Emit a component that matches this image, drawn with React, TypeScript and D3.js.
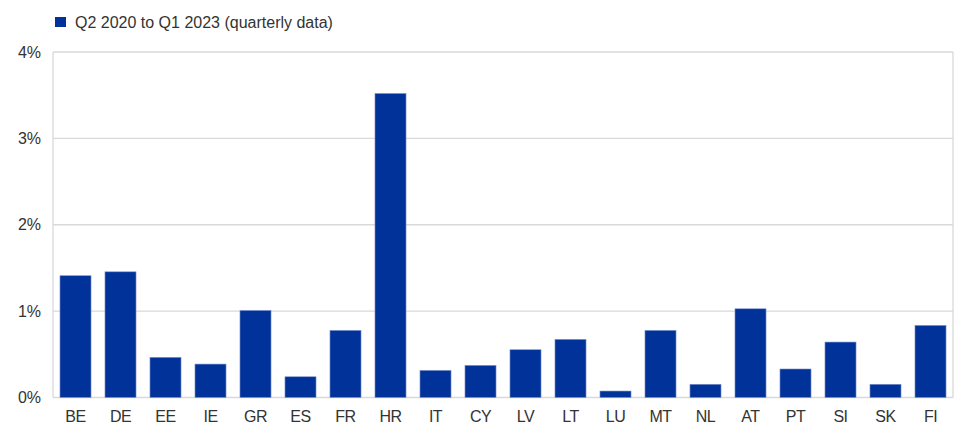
import React, { useRef, useEffect } from "react";
import * as d3 from "d3";

const countries = ["BE", "DE", "EE", "IE", "GR", "ES", "FR", "HR", "IT", "CY", "LV", "LT", "LU", "MT", "NL", "AT", "PT", "SI", "SK", "FI"];
const values = [1.41, 1.455, 0.465, 0.387, 1.008, 0.24, 0.777, 3.52, 0.314, 0.372, 0.553, 0.673, 0.075, 0.777, 0.153, 1.027, 0.33, 0.642, 0.153, 0.835];
const yTicks = [0, 1, 2, 3, 4];
const legendLabel = "Q2 2020 to Q1 2023 (quarterly data)";

const width = 968;
const height = 443;
const margin = { top: 52, right: 15, bottom: 45.5, left: 53 };
const barColor = "#003299";
const textColor = "#333333";
const gridColor = "#d9d9d9";

const App = () => {
  const svgRef = useRef<SVGSVGElement>(null);

  useEffect(() => {
    const svg = d3.select(svgRef.current);
    svg.selectAll("*").remove();

    const x = d3
      .scaleBand()
      .domain(countries)
      .range([margin.left, width - margin.right])
      .paddingInner(0.31)
      .paddingOuter(0.155);

    const y = d3
      .scaleLinear()
      .domain([0, 4])
      .range([height - margin.bottom, margin.top]);

    // gridlines
    svg
      .append("g")
      .selectAll("line")
      .data(yTicks)
      .enter()
      .append("line")
      .attr("x1", margin.left)
      .attr("x2", width - margin.right)
      .attr("y1", (d) => y(d))
      .attr("y2", (d) => y(d))
      .attr("stroke", gridColor)
      .attr("stroke-width", 1.3);

    // left + right frame lines
    [margin.left, width - margin.right].forEach((xx) => {
      svg
        .append("line")
        .attr("x1", xx)
        .attr("x2", xx)
        .attr("y1", y(4))
        .attr("y2", y(0))
        .attr("stroke", gridColor)
        .attr("stroke-width", 1.3);
    });

    // y labels
    svg
      .append("g")
      .selectAll("text")
      .data(yTicks)
      .enter()
      .append("text")
      .attr("x", 41)
      .attr("y", (d) => y(d) + 5.5)
      .attr("text-anchor", "end")
      .text((d) => d + "%")
      .style("font", "16px 'Liberation Sans', Arial, sans-serif")
      .attr("fill", textColor);

    // bars
    svg
      .append("g")
      .selectAll("rect")
      .data(values)
      .enter()
      .append("rect")
      .attr("x", (d, i) => x(countries[i]) as number)
      .attr("width", x.bandwidth())
      .attr("y", (d) => y(d))
      .attr("height", (d) => y(0) - y(d))
      .attr("fill", barColor)
      .attr("stroke", "#7f95cf")
      .attr("stroke-width", 0.6);

    // x labels
    svg
      .append("g")
      .selectAll("text")
      .data(countries)
      .enter()
      .append("text")
      .attr("x", (d) => (x(d) as number) + x.bandwidth() / 2)
      .attr("y", 421.5)
      .attr("text-anchor", "middle")
      .text((d) => d)
      .style("font", "16px 'Liberation Sans', Arial, sans-serif")
      .style("letter-spacing", "-0.5px")
      .attr("fill", textColor);

    // legend
    const legend = svg.append("g").attr("transform", "translate(55,17)");
    legend.append("rect").attr("width", 11).attr("height", 10).attr("fill", barColor);
    legend
      .append("text")
      .attr("x", 20)
      .attr("y", 10.5)
      .text(legendLabel)
      .style("font", "16px 'Liberation Sans', Arial, sans-serif")
      .attr("fill", textColor);
  }, []);

  return (
    <svg
      ref={svgRef}
      width={width}
      height={height}
      style={{ position: "absolute", left: 0, top: 0, background: "#fff" }}
    ></svg>
  );
};

export default App;
